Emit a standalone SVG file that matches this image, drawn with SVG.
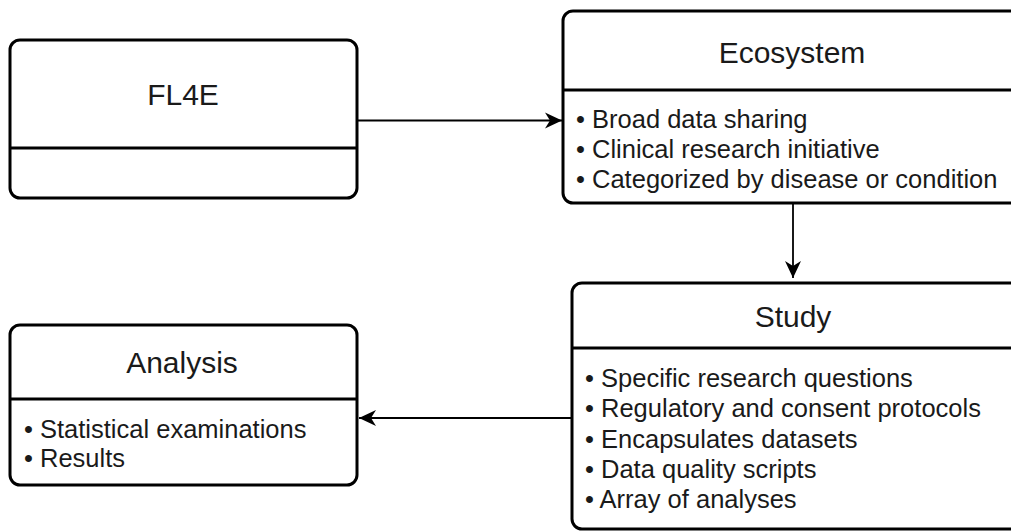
<svg xmlns="http://www.w3.org/2000/svg" width="1011" height="532" viewBox="0 0 1011 532">
  <style>
    .box { fill: #ffffff; stroke: #000000; stroke-width: 3; }
    .div { stroke: #000000; stroke-width: 3; fill: none; }
    .title { font-family: "Liberation Sans", Arial, sans-serif; font-size: 30px; fill: #1a1a1a; text-anchor: middle; }
    .item { font-family: "Liberation Sans", Arial, sans-serif; font-size: 25.5px; fill: #1a1a1a; }
    .edge { stroke: #000000; stroke-width: 1.8; fill: none; }
  </style>
  <defs>
    <marker id="arrow" markerUnits="userSpaceOnUse" markerWidth="20" markerHeight="20" viewBox="-18 -9 20 18" refX="0" refY="0" orient="auto">
      <path d="M0,0 L-17,-8 L-12,0 L-17,8 Z" fill="#000000"/>
    </marker>
  </defs>
  <rect width="1011" height="532" fill="#ffffff"/>

  <g id="connectors">
    <line class="edge" x1="357" y1="120.5" x2="562" y2="120.5" marker-end="url(#arrow)"/>
    <line class="edge" x1="793" y1="203" x2="793" y2="278" marker-end="url(#arrow)"/>
    <line class="edge" x1="571" y1="418" x2="359" y2="418" marker-end="url(#arrow)"/>
  </g>

  <g id="fl4e">
    <rect class="box" x="10" y="40" width="347" height="158" rx="10"/>
    <line class="div" x1="10" y1="148" x2="357" y2="148"/>
    <text class="title" x="183" y="105">FL4E</text>
  </g>

  <g id="ecosystem">
    <rect class="box" x="563" y="11" width="470" height="192" rx="10"/>
    <line class="div" x1="563" y1="90" x2="1011" y2="90"/>
    <text class="title" x="792" y="63">Ecosystem</text>
    <text class="item" x="576" y="128">• Broad data sharing</text>
    <text class="item" x="576" y="158">• Clinical research initiative</text>
    <text class="item" x="576" y="188">• Categorized by disease or condition</text>
  </g>

  <g id="study">
    <rect class="box" x="572" y="283" width="460" height="246" rx="10"/>
    <line class="div" x1="572" y1="348" x2="1011" y2="348"/>
    <text class="title" x="793" y="327">Study</text>
    <text class="item" x="585" y="387">• Specific research questions</text>
    <text class="item" x="585" y="417">• Regulatory and consent protocols</text>
    <text class="item" x="585" y="448">• Encapsulates datasets</text>
    <text class="item" x="585" y="478">• Data quality scripts</text>
    <text class="item" x="585" y="508">• Array of analyses</text>
  </g>

  <g id="analysis">
    <rect class="box" x="10" y="325" width="347" height="160" rx="10"/>
    <line class="div" x1="10" y1="399" x2="357" y2="399"/>
    <text class="title" x="182" y="373">Analysis</text>
    <text class="item" x="24" y="438">• Statistical examinations</text>
    <text class="item" x="24" y="467">• Results</text>
  </g>
</svg>
